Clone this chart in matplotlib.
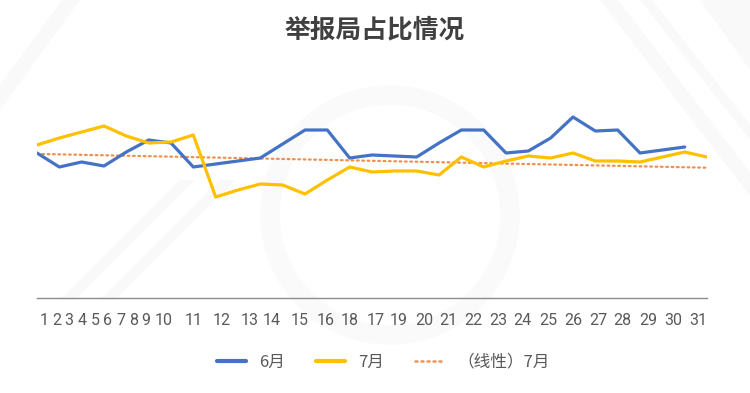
import matplotlib
matplotlib.use("Agg")
import matplotlib.pyplot as plt
from matplotlib.lines import Line2D
import numpy as np

# ---------------- data ----------------
x_labels = ["1", "2", "3", "4", "5", "6", "7", "8", "9", "10", "11", "12", "13", "14", "15",
            "16", "18", "17", "19", "20", "21", "22", "23", "24", "25", "26", "27", "28", "29", "30", "31"]
june = [14.5, 13.1, 13.6, 13.2, 14.6, 15.8, 15.5, 13.1, 13.4, 13.7, 14.0, 15.4, 16.8, 16.8, 14.0,
        14.3, 14.2, 14.1, 15.5, 16.8, 16.8, 14.5, 14.7, 16.0, 18.1, 16.7, 16.8, 14.5, 14.8, 15.1]
july = [15.3, 16.0, 16.6, 17.2, 16.2, 15.5, 15.6, 16.3, 10.1, 10.8, 11.4, 11.3, 10.4, 11.8, 13.1,
        12.6, 12.7, 12.7, 12.3, 14.1, 13.1, 13.7, 14.2, 14.0, 14.5, 13.7, 13.7, 13.6, 14.1, 14.6, 14.1]
series_names = ["6月", "7月", "（线性）7月"]
title = "举报局占比情况"

# ---------------- layout ----------------
W, H = 750, 393
x0_px, x1_px, axis_y_px = 37, 707, 298
n = len(x_labels)
step = (x1_px - x0_px) / (n - 1)
# visual centres of the (irregularly packed) category labels, in pixels
label_px = [44, 57, 69, 82, 95, 108, 121, 134, 146, 164, 194, 222, 250, 272, 300,
            326, 350, 376, 399, 424, 448, 473, 498, 522, 548, 573, 598, 622, 648, 673, 698]

fig = plt.figure(figsize=(W / 100, H / 100), dpi=100)
fig.patch.set_facecolor("white")

# faint watermark-like background
bg = fig.add_axes([0, 0, 1, 1], zorder=-5)
bg.set_xlim(0, W); bg.set_ylim(H, 0); bg.axis("off")
stripe = "#f9f9f9"
for pts in [
    [(0, 85), (62, 0), (80, 0), (0, 110)],
    [(60, 300), (180, 180), (195, 180), (75, 300)],
    [(100, 300), (220, 180), (235, 180), (115, 300)],
    [(600, 0), (618, 0), (840, 290), (822, 290)],
    [(640, 0), (652, 0), (880, 290), (868, 290)],
    [(700, 0), (750, 0), (750, 70)],
]:
    bg.add_patch(plt.Polygon(pts, closed=True, color=stripe, lw=0))
bg.add_patch(plt.Circle((390, 215), 120, fill=False, ec="#fafafa", lw=14))

ax_left = x0_px / W
ax_w = (x1_px - x0_px) / W
y_top_px = 48
ax = fig.add_axes([ax_left, (H - axis_y_px) / H, ax_w, (axis_y_px - y_top_px) / H])
ax.patch.set_alpha(0)

xs_june = np.arange(len(june))
xs_july = np.arange(len(july))
ax.plot(xs_june, june, color="#4472C4", lw=2.3, solid_capstyle="round", solid_joinstyle="round", zorder=3)
ax.plot(xs_july, july, color="#FFC000", lw=2.3, solid_capstyle="round", solid_joinstyle="round", zorder=3)
coef = np.polyfit(xs_july, july, 1)
ax.plot(xs_july, np.polyval(coef, xs_july), color="#ED7D31", lw=1.6, ls=(0, (0.8, 1.6)),
        dash_capstyle="round", alpha=0.85, zorder=2)

ax.set_xlim(0, n - 1)
ax.set_ylim(0, 25)
for s in ["top", "right", "left"]:
    ax.spines[s].set_visible(False)
ax.spines["bottom"].set_color("#8c8c8c")
ax.spines["bottom"].set_linewidth(1.0)
ax.set_yticks([])
tick_pos = [(p - x0_px) / step for p in label_px]
ax.set_xticks(tick_pos)
ax.set_xticklabels(x_labels, fontsize=11.5, color="#595959", family=["Roboto", "DejaVu Sans"])
ax.tick_params(axis="x", length=0, pad=11)

fig.text(0.5, 1 - 30 / H, title, ha="center", va="center", fontsize=18.5, fontweight="black",
         color="#404040", family=["Noto Sans CJK SC", "DejaVu Sans"])

handles = [
    Line2D([], [], color="#4472C4", lw=3, solid_capstyle="round"),
    Line2D([], [], color="#FFC000", lw=3, solid_capstyle="round"),
    Line2D([], [], color="#ED7D31", lw=1.8, ls=(0, (0.8, 1.6)), dash_capstyle="round", alpha=0.85),
]
leg = fig.legend(handles, series_names, loc="center", bbox_to_anchor=(0.511, 1 - 362 / H),
                 ncol=3, frameon=False, handlelength=1.75, columnspacing=1.9, handletextpad=0.75,
                 prop={"family": ["Noto Sans CJK SC", "DejaVu Sans"], "size": 12})
for t in leg.get_texts():
    t.set_color("#595959")

fig.savefig("out.png", dpi=100, facecolor="white")
